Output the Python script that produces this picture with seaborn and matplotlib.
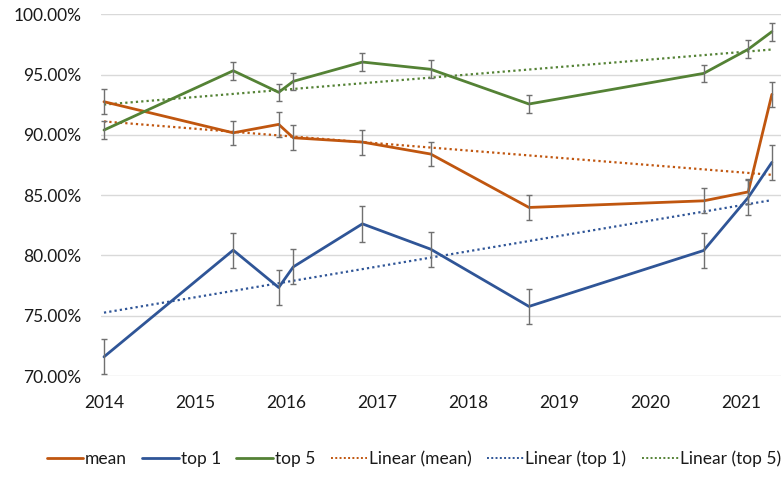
import numpy as np
import pandas as pd
import matplotlib
matplotlib.use("Agg")
import matplotlib.pyplot as plt
import seaborn as sns
from matplotlib.ticker import PercentFormatter, MultipleLocator
from matplotlib.lines import Line2D

# -----------------------------
# Data
# -----------------------------
years = [2014.0, 2015.42, 2015.92, 2016.08, 2016.84, 2017.59, 2018.67, 2020.59, 2021.08, 2021.34]

mean_vals = [92.75, 90.17, 90.87, 89.76, 89.40, 88.41, 83.98, 84.53, 85.27, 93.36]
top1_vals = [71.59, 80.44, 77.34, 79.05, 82.62, 80.52, 75.77, 80.41, 84.81, 87.72]
top5_vals = [90.40, 95.32, 93.53, 94.44, 96.04, 95.44, 92.56, 95.10, 97.10, 98.56]

mean_err = [1.02, 1.02, 1.04, 1.04, 1.04, 1.02, 1.05, 1.05, 1.03, 1.04]
top1_err = [1.45, 1.45, 1.45, 1.45, 1.47, 1.45, 1.44, 1.46, 1.45, 1.44]
top5_err = [0.73, 0.75, 0.73, 0.73, 0.75, 0.73, 0.73, 0.73, 0.73, 0.75]

series_names = ["mean", "top 1", "top 5"]
colors = {"mean": "#C0560F", "top 1": "#2F5597", "top 5": "#548235"}

df = pd.concat([
    pd.DataFrame({"year": years, "value": mean_vals, "err": mean_err, "series": "mean"}),
    pd.DataFrame({"year": years, "value": top1_vals, "err": top1_err, "series": "top 1"}),
    pd.DataFrame({"year": years, "value": top5_vals, "err": top5_err, "series": "top 5"}),
], ignore_index=True)

# -----------------------------
# Style
# -----------------------------
sns.set_style("white")
plt.rcParams["font.family"] = ["Lato", "DejaVu Sans"]

fig = plt.figure(figsize=(7.81, 4.95), dpi=100)
ax = fig.add_axes([0.1293, 0.2404, 0.8707, 0.7307])

# -----------------------------
# Lines
# -----------------------------
sns.lineplot(
    data=df, x="year", y="value", hue="series",
    hue_order=series_names, palette=colors,
    estimator=None, linewidth=2.0, legend=False, ax=ax, zorder=3
)

# error bars
for name in series_names:
    sub = df[df["series"] == name]
    ax.errorbar(
        sub["year"], sub["value"], yerr=sub["err"],
        fmt="none", ecolor="#707070", elinewidth=1.0,
        capsize=2.2, capthick=1.0, zorder=4
    )

# linear trendlines
dot = (0, (1, 1.4))
for name in series_names:
    sub = df[df["series"] == name]
    sns.regplot(
        x=sub["year"], y=sub["value"], scatter=False, ci=None,
        color=colors[name], ax=ax,
        line_kws=dict(ls=dot, lw=1.6, zorder=2)
    )

# -----------------------------
# Axes
# -----------------------------
ax.set_xlim(2013.967, 2021.44)
ax.set_ylim(70, 100)
ax.yaxis.set_major_locator(MultipleLocator(5))
ax.yaxis.set_major_formatter(PercentFormatter(decimals=2))
ax.xaxis.set_major_locator(MultipleLocator(1))
ax.xaxis.set_major_formatter(lambda v, p: f"{int(round(v))}")
ax.set_xlabel("")
ax.set_ylabel("")

ax.yaxis.grid(True, color="#D9D9D9", linewidth=1.0)
ax.xaxis.grid(False)
for s in ax.spines.values():
    s.set_visible(False)
ax.tick_params(axis="both", length=0, pad=14, labelsize=12.5, labelcolor="#1a1a1a")

# -----------------------------
# Legend
# -----------------------------
handles = [Line2D([], [], color=colors[n], lw=2.0) for n in series_names]
handles += [Line2D([], [], color=colors[n], lw=1.4, ls=(0, (1, 1.2))) for n in series_names]
labels = series_names + ["Linear (mean)", "Linear (top 1)", "Linear (top 5)"]
fig.legend(
    handles, labels, loc="center", bbox_to_anchor=(414 / 781, 1 - 459 / 495),
    ncol=6, frameon=False, fontsize=12.5, handlelength=2.1,
    handletextpad=0.1, columnspacing=0.9, labelcolor="#1a1a1a"
)

fig.savefig("out.png", dpi=100)
plt.close(fig)
